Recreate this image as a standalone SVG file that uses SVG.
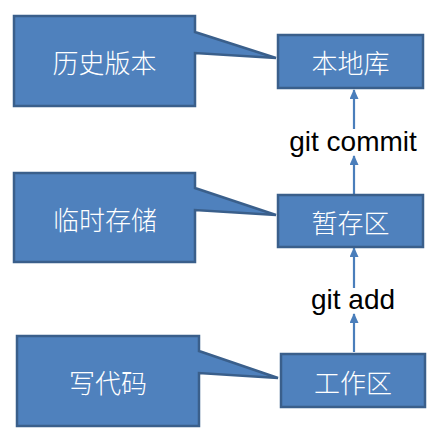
<svg xmlns="http://www.w3.org/2000/svg" width="427" height="434" viewBox="0 0 427 434">
  <style>
    .shape { fill: #4F81BD; stroke: #3A5F8B; stroke-width: 2.5; stroke-linejoin: miter; }
    .cn { font-family: "Noto Sans CJK SC", "Noto Sans", sans-serif; font-size: 26px; font-weight: 300; fill: #FFFFFF; text-anchor: middle; dominant-baseline: central; }
    .lbl { font-family: "Liberation Sans", Arial, sans-serif; font-size: 28px; fill: #000000; text-anchor: middle; }
    .conn { stroke: #4A7EBB; stroke-width: 2.2; fill: none; marker-end: url(#head); }
  </style>
  <defs>
    <marker id="head" markerWidth="10" markerHeight="9" refX="9" refY="4.5" viewBox="0 0 10 9" orient="auto" markerUnits="userSpaceOnUse">
      <path d="M0,0 L10,4.5 L0,9 Z" fill="#4A7EBB"/>
    </marker>
  </defs>

  <g id="connectors">
    <line class="conn" x1="354" y1="194" x2="354" y2="156"/>
    <line class="conn" x1="354" y1="129" x2="354" y2="90"/>
    <line class="conn" x1="354" y1="352" x2="354" y2="314"/>
    <line class="conn" x1="354" y1="288" x2="354" y2="248"/>
  </g>

  <g id="callout-history">
    <path class="shape" d="M14,16 H195 V32 L276,58 L195,53 V106 H14 Z"/>
    <text class="cn" x="104.5" y="61">历史版本</text>
  </g>
  <g id="callout-temp">
    <path class="shape" d="M14,173 H195 V188 L276,215 L195,210 V262 H14 Z"/>
    <text class="cn" x="105" y="218">临时存储</text>
  </g>
  <g id="callout-code">
    <path class="shape" d="M17,336 H199 V351 L278,378 L199,373 V426 H17 Z"/>
    <text class="cn" x="108" y="381">写代码</text>
  </g>

  <g id="node-repo">
    <rect class="shape" x="278" y="35" width="145" height="53"/>
    <text class="cn" x="350.5" y="61.5">本地库</text>
  </g>
  <g id="node-stage">
    <rect class="shape" x="278" y="195" width="145" height="52"/>
    <text class="cn" x="350.5" y="221.5">暂存区</text>
  </g>
  <g id="node-work">
    <rect class="shape" x="281" y="354" width="144" height="53"/>
    <text class="cn" x="353" y="381.5">工作区</text>
  </g>

  <g id="labels">
    <text class="lbl" x="353" y="151">git commit</text>
    <text class="lbl" x="353" y="309">git add</text>
  </g>
</svg>
